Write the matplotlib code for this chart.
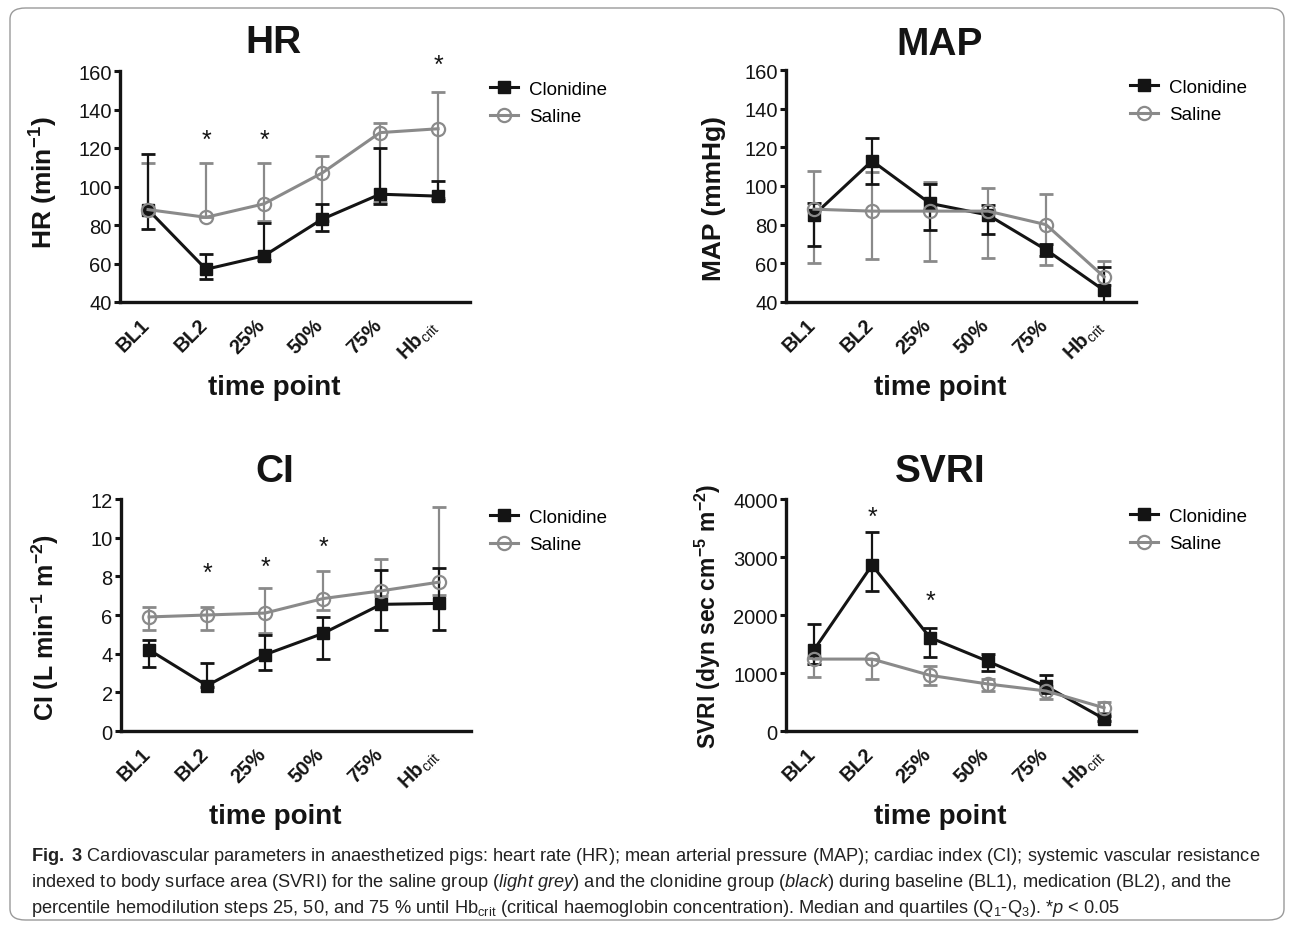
import matplotlib
matplotlib.use("Agg")
import matplotlib.pyplot as plt
from matplotlib.patches import FancyBboxPatch
import matplotlib.transforms as mtransforms
import numpy as np

plt.rcParams['font.family'] = ['Liberation Sans', 'DejaVu Sans']
plt.rcParams['mathtext.fontset'] = 'custom'
plt.rcParams['mathtext.default'] = 'regular'
plt.rcParams['mathtext.rm'] = 'Liberation Sans'
plt.rcParams['mathtext.it'] = 'Liberation Sans:italic'
plt.rcParams['mathtext.bf'] = 'Liberation Sans:bold'

# ---------------- data ----------------
categories = ['BL1', 'BL2', '25%', '50%', '75%', r'Hb$_{\mathrm{crit}}$']
series_names = ['Clonidine', 'Saline']

hr_clon_med = [88, 57, 64, 83, 96, 95]
hr_clon_lo = [78, 52, 62, 77, 91, 93]
hr_clon_hi = [117, 65, 81, 91, 120, 103]
hr_sal_med = [88, 84, 91, 107, 128, 130]
hr_sal_lo = [86, 84, 82, 82, 92, 94]
hr_sal_hi = [112, 112, 112, 116, 133, 149]
hr_stars_x = [1, 2, 5]
hr_stars_y = [124, 124, 163]

map_clon_med = [85, 113, 91, 85, 67, 46]
map_clon_lo = [69, 101, 77, 75, 64, 38]
map_clon_hi = [91, 125, 101, 90, 70, 58]
map_sal_med = [88, 87, 87, 87, 80, 53]
map_sal_lo = [60, 62, 61, 63, 59, 49]
map_sal_hi = [108, 107, 102, 99, 96, 61]

ci_clon_med = [4.2, 2.35, 3.95, 5.05, 6.55, 6.6]
ci_clon_lo = [3.3, 2.3, 3.15, 3.75, 5.2, 5.2]
ci_clon_hi = [4.7, 3.5, 4.95, 5.9, 8.35, 8.45]
ci_sal_med = [5.9, 6.0, 6.1, 6.85, 7.25, 7.7]
ci_sal_lo = [5.25, 5.25, 5.05, 6.25, 7.0, 7.05]
ci_sal_hi = [6.4, 6.4, 7.4, 8.3, 8.9, 11.6]
ci_stars_x = [1, 2, 3]
ci_stars_y = [8.2, 8.5, 9.5]

svri_clon_med = [1400, 2860, 1610, 1200, 770, 210]
svri_clon_lo = [1150, 2420, 1270, 1030, 650, 180]
svri_clon_hi = [1840, 3430, 1780, 1320, 960, 260]
svri_sal_med = [1240, 1240, 960, 810, 690, 400]
svri_sal_lo = [930, 890, 790, 690, 560, 310]
svri_sal_hi = [1260, 1250, 1120, 900, 780, 500]
svri_stars_x = [1, 2]
svri_stars_y = [3700, 2250]

# ---------------- figure ----------------
W, H = 1292, 929
fig = plt.figure(figsize=(W / 100, H / 100), dpi=100)

BLACK = '#141414'
GREY = '#8a8a8a'

def rect(left, top, bottom, width=350):
    return [left / W, 1 - bottom / H, width / W, (bottom - top) / H]

def panel(axrect, title, title_xy, ylabel, ylab_size, ylab_x, ylab_y, ylim, yticks,
          cm, cl, ch, sm, sl, sh, stars_x, stars_y, xlab_xy, leg_xy):
    ax = fig.add_axes(axrect)
    x = np.arange(len(categories))
    cm, cl, ch = map(np.asarray, (cm, cl, ch))
    sm, sl, sh = map(np.asarray, (sm, sl, sh))
    ax.errorbar(x, sm, yerr=[sm - sl, sh - sm], fmt='none', ecolor=GREY,
                elinewidth=1.6, capsize=5, capthick=2.0, zorder=2)
    ax.errorbar(x, cm, yerr=[cm - cl, ch - cm], fmt='none', ecolor=BLACK,
                elinewidth=1.6, capsize=5, capthick=2.0, zorder=3)
    ax.plot(x, cm, '-s', color=BLACK, lw=2.2, ms=8.5, zorder=4,
            label=series_names[0])
    ax.plot(x, sm, '-o', color=GREY, lw=2.2, ms=9.5, mfc='none', mew=1.6,
            zorder=5, label=series_names[1])
    for sx, sy in zip(stars_x, stars_y):
        ax.text(sx, sy, '*', ha='center', va='center', fontsize=18,
                color=BLACK, clip_on=False)
    ax.set_xlim(-0.483, 5.55)
    ax.set_ylim(*ylim)
    ax.set_yticks(yticks)
    ax.tick_params(axis='y', labelsize=14.5, width=2.2, length=4.5,
                   pad=1.5, color=BLACK, labelcolor=BLACK)
    ax.tick_params(axis='x', length=0, pad=9)
    ax.set_xticks(x)
    ax.set_xticklabels(categories, rotation=45, ha='right', va='top',
                       fontsize=14.5, fontweight='bold', color=BLACK)
    shift = mtransforms.ScaledTranslation(5 / 100, 0, fig.dpi_scale_trans)
    for lab in ax.get_xticklabels():
        lab.set_transform(lab.get_transform() + shift)
    for s in ['top', 'right']:
        ax.spines[s].set_visible(False)
    for s in ['left', 'bottom']:
        ax.spines[s].set_linewidth(2.4)
        ax.spines[s].set_color(BLACK)
    ax.set_ylabel(ylabel, fontsize=ylab_size, fontweight='bold', color=BLACK)
    ax.yaxis.set_label_coords(ylab_x, ylab_y)
    fig.text(title_xy[0] / W, 1 - title_xy[1] / H, title, ha='center',
             va='center', fontsize=28, fontweight='bold', color=BLACK)
    fig.text(xlab_xy[0] / W, 1 - xlab_xy[1] / H, 'time point', ha='center',
             va='center', fontsize=20, fontweight='bold', color=BLACK)
    ax.legend(loc='center left', bbox_to_anchor=(leg_xy[0] / W, 1 - leg_xy[1] / H),
              bbox_transform=fig.transFigure, frameon=False, fontsize=13.5,
              handlelength=1.5, handletextpad=0.6, labelspacing=0.55,
              borderpad=0, borderaxespad=0)
    return ax

panel(rect(120, 72, 303), 'HR', (273, 43), r'HR (min$^{-1}$)', 19, -0.17, 0.52,
      (40, 160), range(40, 161, 20),
      hr_clon_med, hr_clon_lo, hr_clon_hi, hr_sal_med, hr_sal_lo, hr_sal_hi,
      hr_stars_x, hr_stars_y, (274, 388), (490, 104))

panel(rect(786, 71, 303), 'MAP', (940, 45), 'MAP (mmHg)', 19, -0.17, 0.45,
      (40, 160), range(40, 161, 20),
      map_clon_med, map_clon_lo, map_clon_hi, map_sal_med, map_sal_lo, map_sal_hi,
      [], [], (940, 388), (1130, 102))

panel(rect(121, 500, 732), 'CI', (275, 472), r'CI (L min$^{-1}$ m$^{-2}$)', 18, -0.17, 0.45,
      (0, 12), range(0, 13, 2),
      ci_clon_med, ci_clon_lo, ci_clon_hi, ci_sal_med, ci_sal_lo, ci_sal_hi,
      ci_stars_x, ci_stars_y, (275, 817), (490, 532))

panel(rect(786, 500, 732), 'SVRI', (940, 472),
      r'SVRI (dyn sec cm$^{-5}$ m$^{-2}$)', 16.5, -0.18, 0.5,
      (0, 4000), range(0, 4001, 1000),
      svri_clon_med, svri_clon_lo, svri_clon_hi, svri_sal_med, svri_sal_lo, svri_sal_hi,
      svri_stars_x, svri_stars_y, (940, 817), (1130, 531))

# frame
frame = FancyBboxPatch((10 / W, 8 / H), 1274 / W, 912 / H,
                       boxstyle='round,pad=0,rounding_size=0.012',
                       transform=fig.transFigure, fill=False,
                       edgecolor='#9a9a9a', lw=1.0)
fig.patches.append(frame)

cap_lines = [
    r'$\mathbf{Fig.\ 3}$ Cardiovascular parameters in anaesthetized pigs: heart rate (HR); mean arterial pressure (MAP); cardiac index (CI); systemic vascular resistance',
    r'indexed to body surface area (SVRI) for the saline group ($\mathit{light\ grey}$) and the clonidine group ($\mathit{black}$) during baseline (BL1), medication (BL2), and the',
    r'percentile hemodilution steps 25, 50, and 75 % until Hb$_{crit}$ (critical haemoglobin concentration). Median and quartiles (Q$_1$-Q$_3$). *$\mathit{p}$ < 0.05',
]
for i, line in enumerate(cap_lines):
    fig.text(31 / W, 1 - (857 + 26 * i) / H, line, ha='left', va='center',
             fontsize=13.15, color='#222222')

fig.savefig('out.png', dpi=100)
